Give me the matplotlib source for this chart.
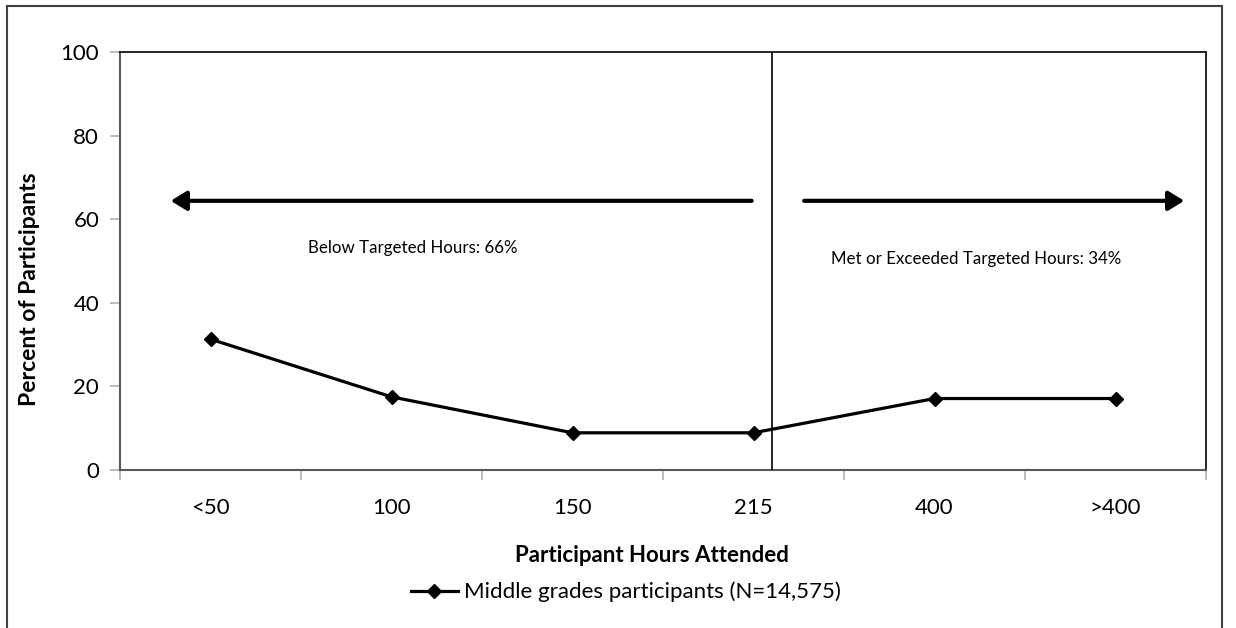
import matplotlib
matplotlib.use("Agg")
import matplotlib.pyplot as plt
from matplotlib.patches import Rectangle

plt.rcParams["font.family"] = ["Lato", "DejaVu Sans"]

# data
categories = ["<50", "100", "150", "215", "400", ">400"]
pct = [31.3, 17.5, 8.9, 8.9, 17.1, 17.1]
yticks = [0, 20, 40, 60, 80, 100]

series_label = "Middle grades participants (N=14,575)"
below_text = "Below Targeted Hours: 66%"
above_text = "Met or Exceeded Targeted Hours: 34%"

fig = plt.figure(figsize=(12.36, 6.28), dpi=100)
ax = fig.add_axes([120 / 1236, 1 - 470 / 628, 1086 / 1236, 418 / 628])

x = list(range(len(categories)))
ax.plot(x, pct, "-", color="black", lw=2.3, marker="D", ms=7,
        label=series_label, zorder=4)

ax.set_xlim(-0.5, len(categories) - 0.5)
ax.set_ylim(0, 100)

# ticks: labels at category centres, tick marks between categories
ax.set_xticks(x)
ax.set_xticklabels(categories)
ax.set_xticks([i - 0.5 for i in range(len(categories) + 1)], minor=True)
ax.tick_params(axis="x", which="major", length=0, pad=20, labelsize=16)
ax.tick_params(axis="x", which="minor", length=7, width=1.2, color="#b0b0b0",
               direction="out")
ax.set_yticks(yticks)
ax.tick_params(axis="y", length=7, width=1.2, color="#b0b0b0", pad=8,
               labelsize=16)

for side in ["left", "bottom"]:
    ax.spines[side].set_color("#595959")
    ax.spines[side].set_linewidth(1.5)
for side in ["top", "right"]:
    ax.spines[side].set_color("black")
    ax.spines[side].set_linewidth(1.2)

# divider between below / met targeted hours
ax.axvline(3.1, color="black", lw=1.2, zorder=3)

arrow_style = "-|>,head_length=9.5,head_width=5.8"
ax.annotate("", xy=(-0.22, 64.4), xytext=(2.99, 64.4),
            arrowprops=dict(arrowstyle=arrow_style, mutation_scale=1,
                            color="black", lw=3, shrinkA=0, shrinkB=0))
ax.annotate("", xy=(5.38, 64.4), xytext=(3.28, 64.4),
            arrowprops=dict(arrowstyle=arrow_style, mutation_scale=1,
                            color="black", lw=3, shrinkA=0, shrinkB=0))

ax.text(1.12, 53.1, below_text, ha="center", va="center", fontsize=12.2)
ax.text(4.23, 50.5, above_text, ha="center", va="center", fontsize=12.2)

fig.text(652 / 1236, 1 - 556 / 628, "Participant Hours Attended",
         ha="center", va="center", fontsize=16, fontweight="bold")
fig.text(30 / 1236, 1 - 289 / 628, "Percent of Participants",
         ha="center", va="center", rotation=90, fontsize=16.5,
         fontweight="bold")

fig.legend(loc="center", bbox_to_anchor=(626 / 1236, 1 - 592 / 628),
           frameon=False, fontsize=16, handlelength=2.1,
           handletextpad=0.3, borderaxespad=0, borderpad=0)

# outer chart border (bottom edge runs off the image)
fig.add_artist(Rectangle((7 / 1236, -0.05), 1215 / 1236, 1.05 - 6 / 628,
                         transform=fig.transFigure, fill=False,
                         edgecolor="#404040", lw=1.5))

fig.savefig("out.png", dpi=100)
